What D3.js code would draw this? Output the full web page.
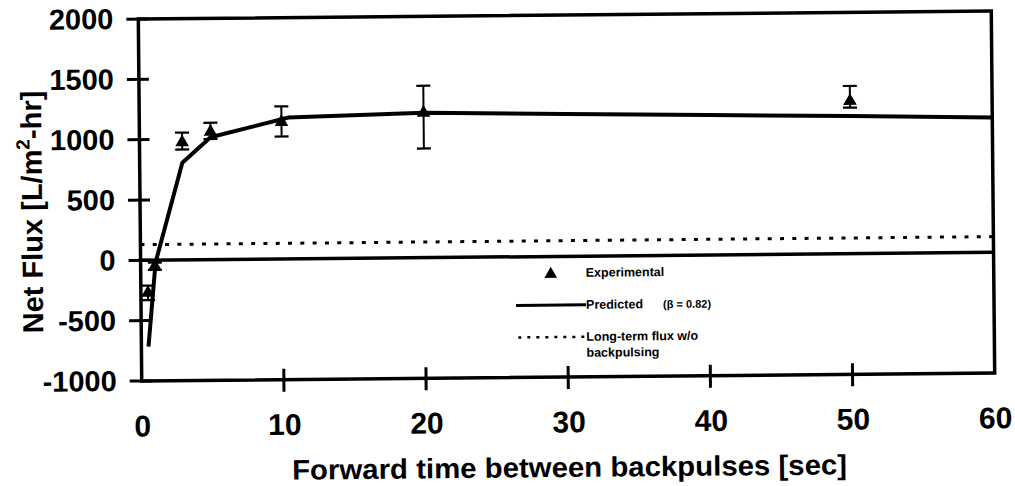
<!DOCTYPE html>
<html><head><meta charset="utf-8">
<script src="https://cdn.jsdelivr.net/npm/d3@7"></script>
<style>
html,body{margin:0;padding:0;background:#fff;}
svg{display:block;}
text{font-family:"Liberation Sans",Arial,sans-serif;font-weight:bold;fill:#000;}
</style></head>
<body>
<svg id="chart" width="1015" height="486"></svg>
<script>
// ---- data ----
const xTicks = [0, 10, 20, 30, 40, 50, 60];
const yTicks = [-1000, -500, 0, 500, 1000, 1500, 2000];
const expX  = [0.5, 1, 3, 5, 10, 20, 50];
const expY  = [-270, -50, 975, 1060, 1135, 1200, 1265];
const expLo = [-330, -80, 915, 1000, 1015, 905, 1210];
const expHi = [-210, -20, 1055, 1135, 1265, 1425, 1390];
const predX = [0.5, 1.05, 3, 5, 10.5, 20, 30, 40, 50, 60];
const predY = [-715, -20, 806, 1015, 1172, 1201, 1180, 1160, 1140, 1118];
const longX = [0, 60];
const longY = [130, 130];
const zeroX = [0, 60];
const zeroY = [0, 0];

// ---- layout ----
const L = 140, R = 993, T = 15, B = 377;
const svg = d3.select("#chart");
const g = svg.append("g").attr("transform", "rotate(-0.54,566,196)");

const x = d3.scaleLinear().domain([0, 60]).range([L, R]);
const y = d3.scaleLinear().domain([-1000, 2000]).range([B, T]);
const fmt = d => String(d);

// frame
g.append("rect").attr("x", L).attr("y", T).attr("width", R - L).attr("height", B - T)
  .attr("fill", "none").attr("stroke", "#000").attr("stroke-width", 3.5);

// y ticks (crossing the axis)
const yAxis = d3.axisLeft(y).tickValues(yTicks).tickFormat(fmt).tickSize(0).tickPadding(25);
const ya = g.append("g").attr("transform", `translate(${L},0)`).call(yAxis);
ya.select(".domain").remove();
ya.selectAll("text").attr("font-size", 29).attr("font-family", '"Liberation Sans",Arial,sans-serif')
  .attr("font-weight", "bold").attr("fill", "#000");
g.selectAll(".ytick").data(yTicks).enter().append("line")
  .attr("x1", L - 12).attr("x2", L + 10).attr("y1", d => y(d)).attr("y2", d => y(d))
  .attr("stroke", "#000").attr("stroke-width", 3);

// x ticks
const xAxis = d3.axisBottom(x).tickValues(xTicks).tickFormat(fmt).tickSize(0).tickPadding(34);
const xa = g.append("g").attr("transform", `translate(0,${B})`).call(xAxis);
xa.select(".domain").remove();
xa.selectAll("text").attr("font-size", 30).attr("font-family", '"Liberation Sans",Arial,sans-serif')
  .attr("font-weight", "bold").attr("fill", "#000");
g.selectAll(".xtick").data(xTicks.slice(1, -1)).enter().append("line")
  .attr("x1", d => x(d)).attr("x2", d => x(d)).attr("y1", B - 11).attr("y2", B + 12)
  .attr("stroke", "#000").attr("stroke-width", 3);

const line = d3.line().x(d => x(d[0])).y(d => y(d[1]));

// zero line
g.append("path").datum(zeroX.map((v, i) => [v, zeroY[i]])).attr("d", line)
  .attr("fill", "none").attr("stroke", "#000").attr("stroke-width", 3.5);

// long-term flux (dotted)
g.append("path").datum(longX.map((v, i) => [v, longY[i]])).attr("d", line)
  .attr("fill", "none").attr("stroke", "#000").attr("stroke-width", 3)
  .attr("stroke-dasharray", "4,8.3");

// predicted
g.append("path").datum(predX.map((v, i) => [v, predY[i]])).attr("d", line)
  .attr("fill", "none").attr("stroke", "#000").attr("stroke-width", 4)
  .attr("stroke-linejoin", "round");

// error bars
const eb = g.append("g");
expX.forEach((v, i) => {
  const cx = x(v);
  eb.append("line").attr("x1", cx).attr("x2", cx).attr("y1", y(expLo[i])).attr("y2", y(expHi[i]))
    .attr("stroke", "#000").attr("stroke-width", 2);
  [expLo[i], expHi[i]].forEach(e => {
    eb.append("line").attr("x1", cx - 7).attr("x2", cx + 7).attr("y1", y(e)).attr("y2", y(e))
      .attr("stroke", "#000").attr("stroke-width", 2.2);
  });
});

// triangles
const tri = d3.symbol().type(d3.symbolTriangle).size(80);
g.selectAll(".pt").data(expX).enter().append("path")
  .attr("d", tri).attr("transform", (d, i) => `translate(${x(d)},${y(expY[i])})`)
  .attr("fill", "#000");

// legend
const lg = g.append("g");
lg.append("path").attr("d", d3.symbol().type(d3.symbolTriangle).size(70)())
  .attr("transform", "translate(550,274)").attr("fill", "#000");
lg.append("text").attr("x", 585).attr("y", 277).attr("font-size", 12.5).text("Experimental");
lg.append("line").attr("x1", 515).attr("x2", 585).attr("y1", 305).attr("y2", 305)
  .attr("stroke", "#000").attr("stroke-width", 3);
lg.append("text").attr("x", 585).attr("y", 309).attr("font-size", 12.5).text("Predicted");
lg.append("text").attr("x", 662).attr("y", 309).attr("font-size", 11).text("(β = 0.82)");
lg.append("line").attr("x1", 517).attr("x2", 585).attr("y1", 337).attr("y2", 337)
  .attr("stroke", "#000").attr("stroke-width", 2.5).attr("stroke-dasharray", "3,6");
lg.append("text").attr("x", 585).attr("y", 341).attr("font-size", 12.5).text("Long-term flux w/o");
lg.append("text").attr("x", 585).attr("y", 357).attr("font-size", 12.5).text("backpulsing");

// axis titles
const yt = g.append("text").attr("transform", "translate(42,207) rotate(-90)")
  .attr("text-anchor", "middle").attr("font-size", 29);
yt.append("tspan").text("Net Flux [L/m");
yt.append("tspan").attr("font-size", 19).attr("dy", -12).text("2");
yt.append("tspan").attr("dy", 12).text("-hr]");

g.append("text").attr("x", 567).attr("y", 477).attr("text-anchor", "middle")
  .attr("font-size", 28).attr("textLength", 555).attr("lengthAdjust", "spacingAndGlyphs")
  .text("Forward time between backpulses [sec]");
</script>
</body></html>
